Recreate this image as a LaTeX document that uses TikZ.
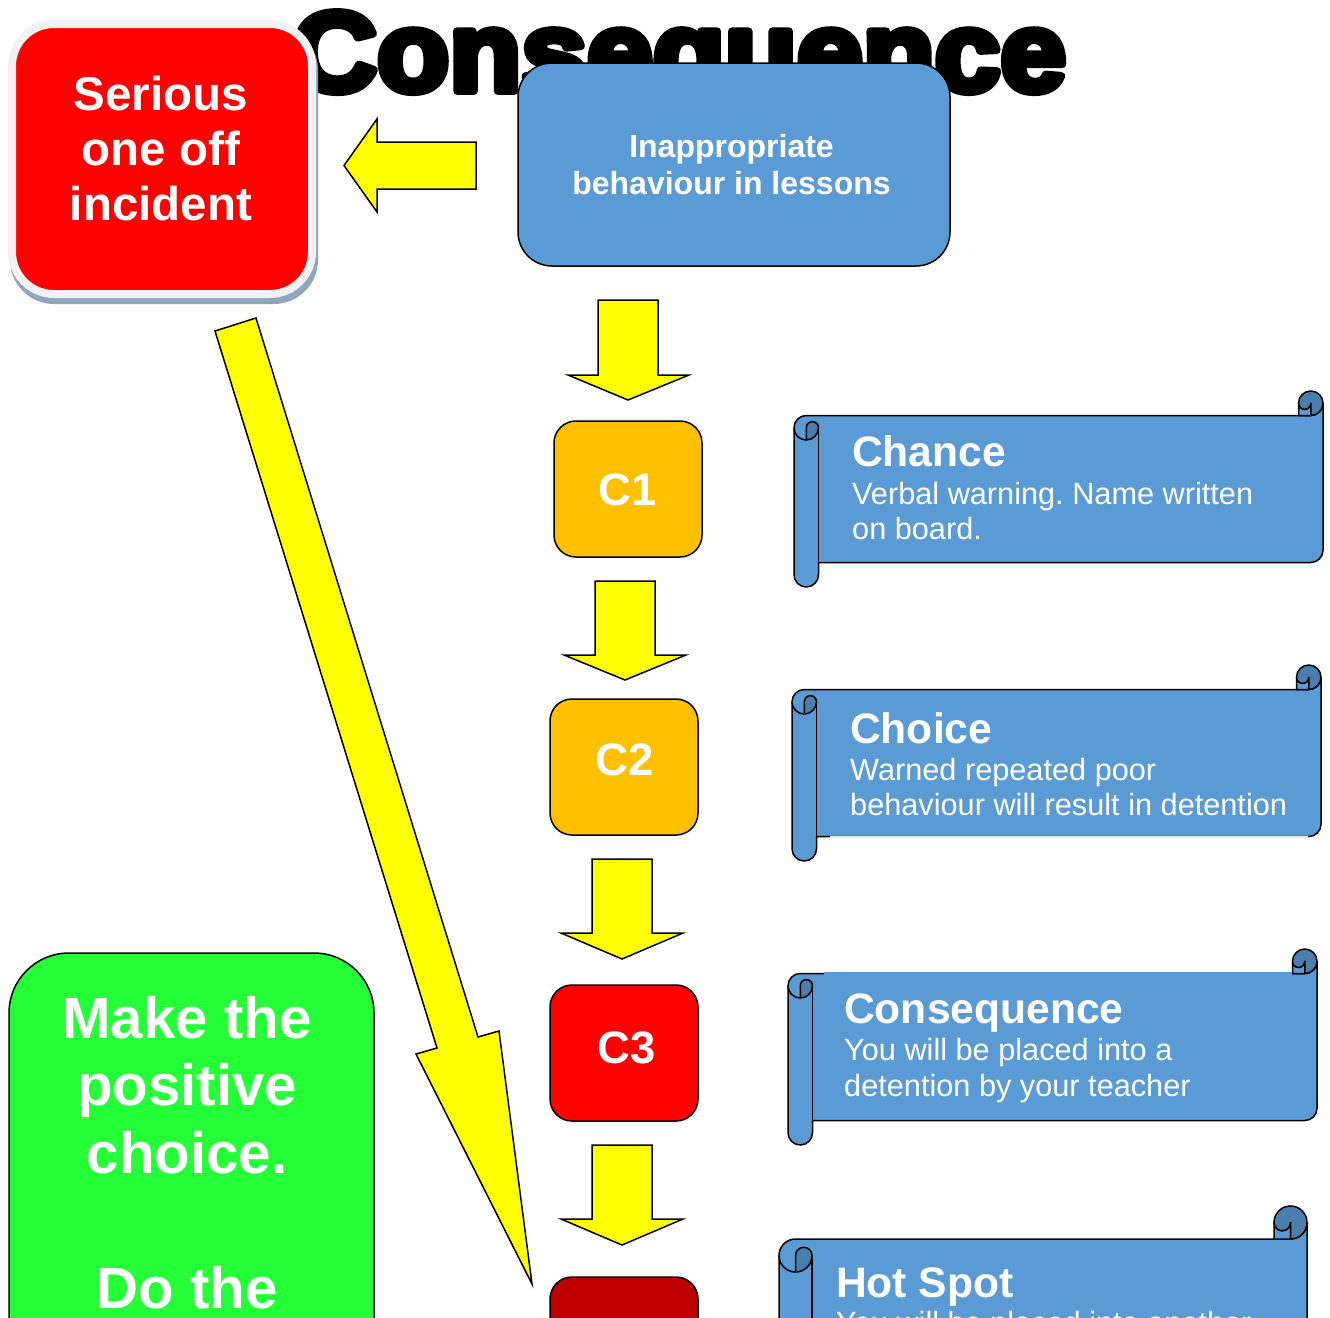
\documentclass[tikz,border=0pt]{standalone}
\usepackage{fontspec}
\setmainfont{Liberation Sans}
\newfontfamily\titlefont[FakeBold=7]{Liberation Sans Bold}
\definecolor{panelblue}{HTML}{5B9BD5}
\definecolor{rolldark}{HTML}{4A7EAC}
\definecolor{amberbox}{HTML}{FFC000}
\definecolor{darkred}{HTML}{C00000}
\definecolor{purered}{HTML}{FF0000}
\definecolor{pureyellow}{HTML}{FFFF00}
\definecolor{brightgreen}{HTML}{24FF38}
\definecolor{frameshadow}{HTML}{8FA6BC}
\definecolor{framegrey}{HTML}{F2F2F2}
\tikzset{
  x=1pt,y=1pt,
  outline/.style={draw=black,line width=1.5pt,line join=round},
  blockarrow/.style={outline,fill=pureyellow,line join=miter,miter limit=10},
  boxbase/.style={outline,rectangle,anchor=north west,inner sep=0pt,outer sep=0pt},
  cbox/.style={boxbase,minimum width=148pt,minimum height=136pt,rounded corners=22pt},
  lbl/.style={text=white,inner sep=0pt,anchor=base,align=center},
  headbig/.style={lbl,anchor=base west,font=\bfseries\fontsize{42.6}{48}\selectfont},
  bodytext/.style={lbl,anchor=base west,align=left,font=\frenchspacing\fontsize{30.7}{35}\selectfont},
}
\newcommand{\scrollpanel}[5]{%
  \begin{scope}[shift={(#1,-#2)}]
    \pgfmathsetmacro{\rr}{#5}
    \pgfmathsetmacro{\hr}{#5/2}
    \pgfmathsetmacro{\dr}{2*#5}
    \pgfmathsetmacro{\tr}{3*#5}
    \pgfmathsetmacro{\qr}{4*#5}
    \pgfmathsetmacro{\wa}{#3}
    \pgfmathsetmacro{\wb}{#3-#5}
    \pgfmathsetmacro{\wc}{#3-2*#5}
    \pgfmathsetmacro{\ha}{#4-#5}
    \pgfmathsetmacro{\hb}{#4-2*#5}
    \pgfmathsetmacro{\hc}{#4-3*#5}
    \path[outline,fill=panelblue] (0,-\tr) arc[start angle=180,end angle=90,radius=\rr pt]
      -- (\wb,-\dr) arc[start angle=270,end angle=360,radius=\rr pt]
      -- (\wa,-\hc) arc[start angle=0,end angle=-90,radius=\rr pt]
      -- (\dr,-\hb) -- (\dr,-\ha) arc[start angle=0,end angle=-180,radius=\rr pt] -- cycle;
    \draw[outline] (\dr,-\tr) -- (\dr,-\hb);
    \draw[outline,fill=rolldark] (\rr,-\qr) -- (\rr,-\tr) arc[start angle=180,end angle=0,radius=\hr pt]
      arc[start angle=0,end angle=-90,radius=\rr pt] -- cycle;
    \draw[outline] (0,-\tr) arc[start angle=180,end angle=270,radius=\rr pt];
    \draw[outline,fill=panelblue] (\wc,-\rr) -- (\wc,-\dr) -- (\wb,-\dr) -- (\wb,-\rr)
      arc[start angle=360,end angle=180,radius=\hr pt] -- cycle;
    \draw[outline,fill=rolldark] (\wa,-\rr) arc[start angle=0,end angle=180,radius=\rr pt]
      arc[start angle=180,end angle=360,radius=\hr pt] -- (\wb,-\dr)
      arc[start angle=270,end angle=360,radius=\rr pt] -- cycle;
  \end{scope}}
\begin{document}
\begin{tikzpicture}
\useasboundingbox (0,0) rectangle (1330,-1317);
\clip (0,0) rectangle (1330,-1317);
% title
\node[inner sep=0pt,anchor=base,font=\titlefont\fontsize{113}{113}\selectfont,xscale=1.045] (title) at (679,-91) {\special{pdf:code 1 j}Consequence};
% serious incident box
\node[rectangle,anchor=north west,minimum width=308pt,minimum height=278pt,rounded corners=44pt,fill=frameshadow,inner sep=0pt,outer sep=0pt] (seriousshadow) at (10,-26) {};
\node[rectangle,anchor=north west,minimum width=300pt,minimum height=270pt,rounded corners=42pt,fill=purered,draw=framegrey,line width=8pt,inner sep=0pt,outer sep=0pt] (serious) at (12,-24) {};
\node[lbl,font=\bfseries\fontsize{47.5}{55}\selectfont] (serioustext) at (161,-220) {Serious\\one off\\incident};
% inappropriate box
\node[boxbase,fill=panelblue,minimum width=432pt,minimum height=203pt,rounded corners=34pt] (lessons) at (518,-63) {};
\node[lbl,font=\bfseries\fontsize{32}{36.5}\selectfont] (lessonstext) at (731.5,-194) {Inappropriate\\behaviour in lessons};
% block arrows
\draw[blockarrow] (476,-142) -- (377,-142) -- (377,-119) -- (344,-165.5) -- (377,-212) -- (377,-189) -- (476,-189) -- cycle;
\draw[blockarrow] (598,-300) -- (658,-300) -- (658,-375) -- (689,-375) -- (628,-400) -- (568,-375) -- (598,-375) -- cycle;
\draw[blockarrow] (595,-581) -- (655,-581) -- (655,-655) -- (686,-655) -- (625,-680) -- (564,-655) -- (595,-655) -- cycle;
\draw[blockarrow] (592,-859) -- (652,-859) -- (652,-933) -- (683,-933) -- (622,-959) -- (561,-933) -- (592,-933) -- cycle;
\draw[blockarrow] (592,-1145) -- (652,-1145) -- (652,-1219) -- (683,-1219) -- (622,-1245) -- (561,-1219) -- (592,-1219) -- cycle;
\draw[blockarrow] (215,-331) -- (256,-318) -- (478,-1037) -- (499,-1031) -- (532,-1284) -- (416,-1054) -- (437,-1048) -- cycle;
% C boxes
\node[cbox,fill=amberbox] (c1) at (554,-421) {};
\node[lbl,font=\bfseries\fontsize{45.5}{50}\selectfont] (c1text) at (627.5,-505) {C1};
\node[cbox,fill=amberbox] (c2) at (550,-699) {};
\node[lbl,font=\bfseries\fontsize{45.5}{50}\selectfont] (c2text) at (625,-775) {C2};
\node[cbox,fill=purered] (c3) at (550,-985) {};
\node[lbl,font=\bfseries\fontsize{45.5}{50}\selectfont] (c3text) at (627,-1063) {C3};
\node[cbox,fill=darkred] (c4) at (550,-1277) {};
% green box
\node[boxbase,fill=brightgreen,minimum width=365pt,minimum height=600pt,rounded corners=60pt] (green) at (9,-953) {};
\node[lbl,font=\bfseries\fontsize{58.2}{67.5}\selectfont] (greentext) at (187,-1308) {Make the\\positive\\choice.\\[67.5pt]Do the};
% scrolls
\scrollpanel{794}{391}{529}{196}{12.25}
\node[headbig] (chance) at (852,-466) {Chance};
\node[bodytext] (chancebody) at (852,-539) {Verbal warning. Name written\\on board.};
\scrollpanel{792}{665}{529}{196}{12.25}
\draw[line width=1.6pt,draw=panelblue!20] (830,-837) -- (1308,-837);
\node[headbig] (choice) at (850,-743) {Choice};
\node[bodytext] (choicebody) at (850,-815) {Warned repeated poor\\behaviour will result in detention};
\scrollpanel{788}{949}{529}{196}{12.25}
\draw[line width=3pt,draw=panelblue] (824,-973.5) -- (1292,-973.5);
\node[headbig] (conseq) at (844,-1023) {Consequence};
\node[bodytext,font=\fontsize{30.7}{36}\selectfont] (conseqbody) at (844,-1096) {You will be placed into a\\detention by your teacher};
\scrollpanel{779}{1206}{528}{262}{16.5}
\node[headbig] (hotspot) at (836,-1297) {Hot Spot};
\node[bodytext] (hotspotbody) at (836,-1333.5) {You will be placed into another};
\end{tikzpicture}
\end{document}
